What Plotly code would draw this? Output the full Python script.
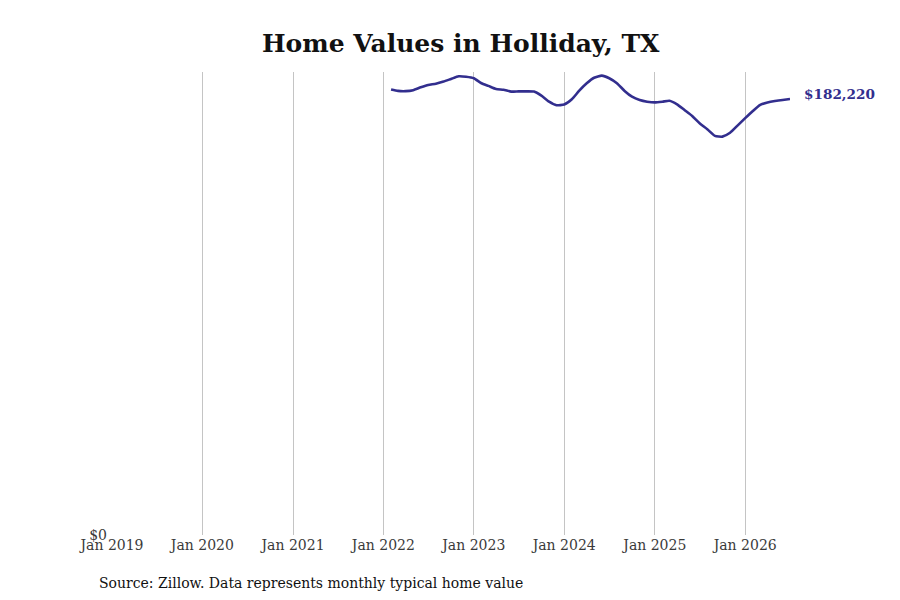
import plotly.graph_objects as go
import pandas as pd

title_text = "Home Values in Holliday, TX"
source_text = "Source: Zillow. Data represents monthly typical home value"

start_month = "2022-02-01"
values = [
    186200, 185600, 185500, 185900, 187100, 188100, 188600, 189500, 190600, 191700, 191500,  # 2022 Feb-Dec
    190900, 188800, 187700, 186400, 186100, 185300, 185400, 185400, 185300, 183600, 181100, 179600,  # 2023
    179900, 182100, 185600, 188800, 191100, 192000, 190900, 188800, 185600, 183200, 181800, 181100,  # 2024
    180800, 181100, 181500, 180000, 177600, 175100, 172100, 169600, 166800, 166500, 168100, 171100,  # 2025
    174200, 177200, 179700, 180800, 181400, 181800, 182220,  # 2026 Jan-Jul
]
dates = pd.date_range(start_month, periods=len(values), freq="MS")

tick_vals = ["2019-01-01", "2020-01-01", "2021-01-01", "2022-01-01", "2023-01-01",
             "2024-01-01", "2025-01-01", "2026-01-01"]
tick_text = ["Jan 2019", "Jan 2020", "Jan 2021", "Jan 2022", "Jan 2023",
             "Jan 2024", "Jan 2025", "Jan 2026"]

line_color = "#322e8e"
serif = "DejaVu Serif"

fig = go.Figure()
fig.add_trace(go.Scatter(
    x=dates, y=values, mode="lines",
    line=dict(color=line_color, width=2.6, shape="spline", smoothing=0.5),
    hoverinfo="skip", showlegend=False,
))

fig.add_annotation(
    x=dates[-1], y=values[-1], xref="x", yref="y",
    text=f"<b>${values[-1]:,}</b>", showarrow=False,
    xanchor="left", yanchor="middle", xshift=12, yshift=5,
    font=dict(family=serif, size=13.6, color=line_color),
)

fig.add_annotation(
    x=-0.022, y=-0.103, xref="paper", yref="paper", text=source_text, showarrow=False,
    xanchor="left", yanchor="middle",
    font=dict(family=serif, size=14, color="#111111"),
)

fig.update_layout(
    width=900, height=600,
    margin=dict(l=104, r=118, t=64, b=73),
    paper_bgcolor="white", plot_bgcolor="white",
    title=dict(text=f"<b>{title_text}</b>", x=0.503, xanchor="center", y=0.941, yanchor="middle",
               font=dict(family=serif, size=25, color="#111111")),
    xaxis=dict(
        range=["2019-01-01", "2026-07-01"],
        tickvals=tick_vals, ticktext=tick_text,
        showgrid=True, gridcolor="#c4c4c4", gridwidth=1,
        zeroline=False, showline=False, ticks="",
        tickfont=dict(family=serif, size=14, color="#3a3a3a"),
    ),
    yaxis=dict(
        range=[0, 193500],
        tickvals=[0], ticktext=["$0"],
        showgrid=False, zeroline=False, showline=False, ticks="",
        ticklabelstandoff=4,
        tickfont=dict(family=serif, size=14, color="#3a3a3a"),
    ),
)

fig.write_html("out.html")
